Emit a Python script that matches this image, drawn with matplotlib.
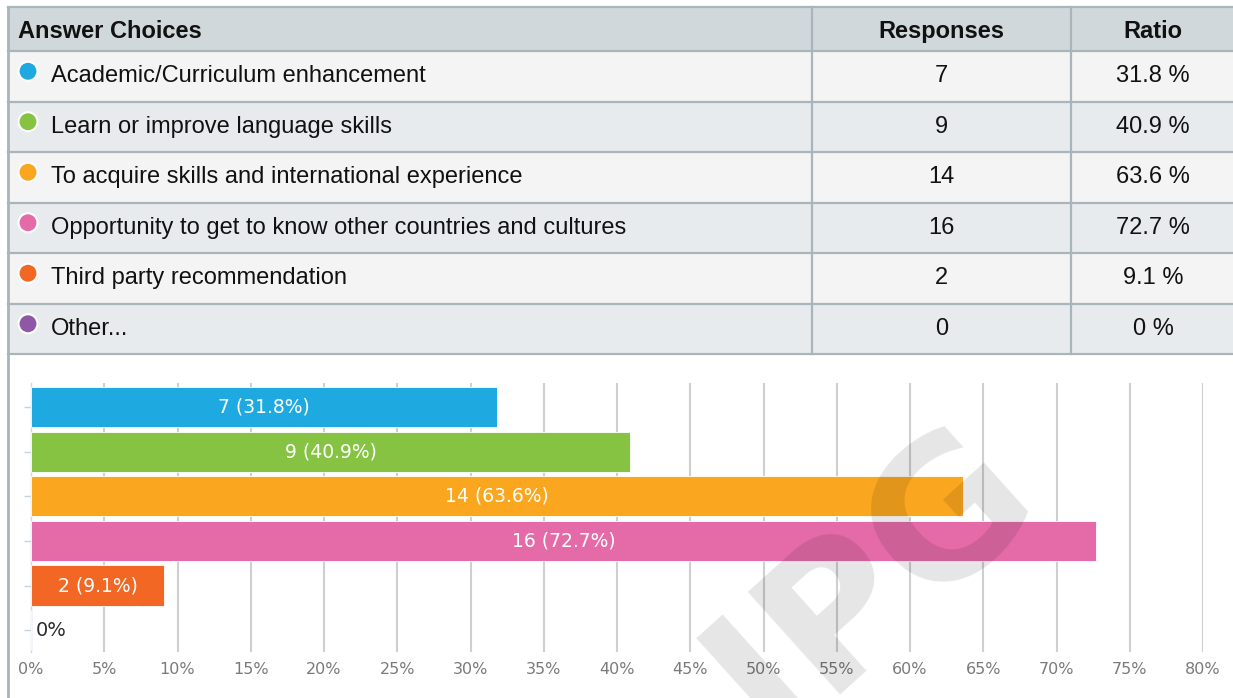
import matplotlib
matplotlib.use("Agg")
import matplotlib.pyplot as plt
from matplotlib.patches import Rectangle, Circle

categories = [
    "Academic/Curriculum enhancement",
    "Learn or improve language skills",
    "To acquire skills and international experience",
    "Opportunity to get to know other countries and cultures",
    "Third party recommendation",
    "Other...",
]
responses = [7, 9, 14, 16, 2, 0]
ratios = [31.8, 40.9, 63.6, 72.7, 9.1, 0]
ratio_labels = ["31.8 %", "40.9 %", "63.6 %", "72.7 %", "9.1 %", "0 %"]
colors = ["#1FA9E1", "#87C343", "#FAA61F", "#E46BA7", "#F16723", "#8E58A6"]
xticks = [0, 5, 10, 15, 20, 25, 30, 35, 40, 45, 50, 55, 60, 65, 70, 75, 80]
headers = ["Answer Choices", "Responses", "Ratio"]

W, H = 1233, 698
fig = plt.figure(figsize=(W / 100, H / 100), dpi=100)
fig.patch.set_facecolor("white")

# ---------- table (pixel coordinate overlay) ----------
tab = fig.add_axes([0, 0, 1, 1])
tab.set_xlim(0, W)
tab.set_ylim(H, 0)
tab.axis("off")

border = "#A9B5BB"
tfont = "Liberation Sans"
fs = 17
x_left, x_c1, x_c2, x_right = 8, 812, 1071, 1235
y_top, y_head = 7, 51
row_h = 50.5

tab.add_patch(Rectangle((x_left, y_top), x_right - x_left, y_head - y_top,
                        facecolor="#D0D8DC", edgecolor="none"))
for i in range(len(categories)):
    y0 = y_head + i * row_h
    fc = "#F4F4F4" if i % 2 == 0 else "#E8EBED"
    tab.add_patch(Rectangle((x_left, y0), x_right - x_left, row_h,
                            facecolor=fc, edgecolor="none"))
n = len(categories)
y_bottom = y_head + n * row_h
for k in range(n + 2):
    yy = y_top if k == 0 else y_head + (k - 1) * row_h
    tab.plot([x_left, x_right], [yy, yy], color=border, lw=1.6)
for xx in (x_c1, x_c2):
    tab.plot([xx, xx], [y_top, y_bottom], color=border, lw=1.6)
tab.plot([x_left, x_left], [y_top, H], color=border, lw=2.0)

hy = (y_top + y_head) / 2 + 2.5
tab.text(18, hy, headers[0], fontsize=fs, fontweight="bold", family=tfont,
         va="center", ha="left", color="#111111")
tab.text((x_c1 + x_c2) / 2, hy, headers[1], fontsize=fs, fontweight="bold",
         family=tfont, va="center", ha="center", color="#111111")
tab.text(1153, hy, headers[2], fontsize=fs, fontweight="bold", family=tfont,
         va="center", ha="center", color="#111111")

for i, (cat, r, rl, c) in enumerate(zip(categories, responses, ratio_labels, colors)):
    yc = y_head + i * row_h + row_h / 2
    tab.add_patch(Circle((28, yc - 5), 9.5, facecolor=c, edgecolor="white", lw=1.5))
    tab.text(51, yc, cat, fontsize=fs, family=tfont, va="center", ha="left",
             color="#111111")
    tab.text((x_c1 + x_c2) / 2, yc, str(r), fontsize=fs, family=tfont,
             va="center", ha="center", color="#111111")
    tab.text(1153, yc, rl, fontsize=fs, family=tfont, va="center", ha="center",
             color="#111111")

# ---------- bar chart ----------
ax_l, ax_r, ax_t, ax_b = 31, 1203, 383, 652
ax = fig.add_axes([ax_l / W, 1 - ax_b / H, (ax_r - ax_l) / W, (ax_b - ax_t) / H])
ax.set_facecolor("none")
ypos = list(range(n))
ax.barh(ypos, ratios, height=0.9, color=colors, edgecolor="white", lw=0.6, zorder=3)
ax.set_xlim(0, 80)
ax.set_ylim(5.49, -0.54)
ax.set_xticks(xticks)
ax.set_xticklabels([f"{t}%" for t in xticks], fontsize=11.5, color="#7A7A7A",
                   family="DejaVu Sans")
ax.set_yticks(ypos)
ax.set_yticklabels([])
ax.tick_params(axis="x", length=0, pad=7)
ax.tick_params(axis="y", length=5, color="#C8D4E0", width=1)
ax.grid(axis="x", color="#CFCFCF", lw=1.5, zorder=0)
ax.set_axisbelow(True)
for s in ("top", "right", "bottom"):
    ax.spines[s].set_visible(False)
ax.spines["left"].set_color("#C8D8EA")
ax.spines["left"].set_linewidth(1)

for y, v, r in zip(ypos, ratios, responses):
    if v > 0:
        ax.text(v / 2, y, f"{r} ({v}%)", ha="center", va="center", color="white",
                fontsize=13.5, family="DejaVu Sans", zorder=4)
    else:
        ax.text(0.35, y, "0%", ha="left", va="center", color="#2A2A2A",
                fontsize=14, family="DejaVu Sans", zorder=4)

# watermark
fig.text(872 / W, 1 - 580 / H, "IPG", fontsize=136, fontweight="bold",
         family="DejaVu Sans", color="black", alpha=0.1, rotation=42,
         ha="center", va="center", zorder=10)

fig.savefig("out.png", dpi=100)
